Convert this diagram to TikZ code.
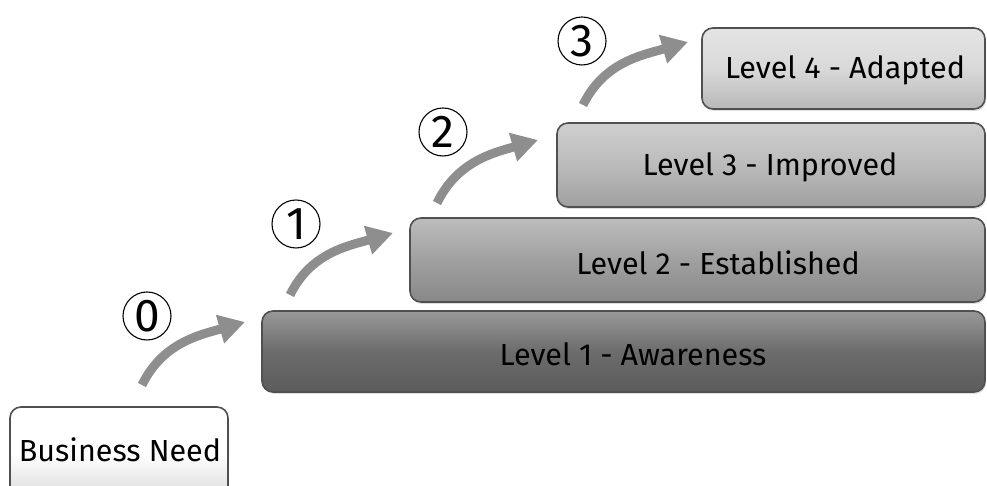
\documentclass[tikz,border=0pt]{standalone}
\usepackage{fontspec}
\setmainfont{Fira Sans}
\usetikzlibrary{arrows.meta,shadows}
\definecolor{arrowgray}{HTML}{8E8E8E}
\definecolor{edgegray}{HTML}{505050}
\definecolor{cLfour}{HTML}{D9D9D9}
\definecolor{cLthree}{HTML}{BBBBBB}
\definecolor{cLtwo}{HTML}{A0A0A0}
\definecolor{cLone}{HTML}{6C6C6C}
\begin{document}
\begin{tikzpicture}[x=1pt,y=1pt,
  levelbox/.style={draw=edgegray, line width=1.6pt, rounded corners=11pt, inner sep=0pt,
    top color=#1!70!white, bottom color=#1!85!black, middle color=#1,
    drop shadow={opacity=0.25, shadow xshift=1pt, shadow yshift=-2pt}},
  lbl/.style={inner sep=0pt, font=\fontsize{30.5}{34}\selectfont, text=black},
  numcirc/.style={circle, draw=black, line width=1.1pt, minimum size=48pt, inner sep=0pt,
    font=\fontsize{46}{50}\selectfont},
  steparrow/.style={draw=arrowgray, line width=9pt, -{Triangle[length=26pt,width=28pt]}}
]
\useasboundingbox (0,0) rectangle (987,486);
\clip (0,0) rectangle (987,486);
% boxes
\node[levelbox=white, minimum width=218pt, minimum height=93pt] (bn) at (119,32.5) {};
\node[lbl] (bnt) at (120,36) {Business Need};
\node[levelbox=cLone, minimum width=723pt, minimum height=81pt] (l1) at (623.5,134.5) {};
\node[lbl] (l1t) at (633,132) {Level 1 - Awareness};
\node[levelbox=cLtwo, minimum width=575pt, minimum height=84pt] (l2) at (697.5,226) {};
\node[lbl] (l2t) at (718,223) {Level 2 - Established};
\node[levelbox=cLthree, minimum width=428pt, minimum height=84pt] (l3) at (771,321) {};
\node[lbl] (l3t) at (770,319) {Level 3 - Improved};
\node[levelbox=cLfour, minimum width=283pt, minimum height=81pt] (l4) at (843.5,417.5) {};
\node[lbl] (l4t) at (845,416) {Level 4 - Adapted};
% numbers
\node[numcirc] (n0) at (147,170) {0};
\node[numcirc] (n1) at (296,262) {1};
\node[numcirc] (n2) at (443,354) {2};
\node[numcirc] (n3) at (582,445) {3};
% arrows
\coordinate (a0s) at (142,101); \coordinate (a0e) at (245,164);
\coordinate (a1s) at (290,191); \coordinate (a1e) at (393,253);
\coordinate (a2s) at (437,283); \coordinate (a2e) at (538,346);
\coordinate (a3s) at (583,381); \coordinate (a3e) at (688,444);
\draw[steparrow] (a0s) to[out=64,in=196] (a0e);
\draw[steparrow] (a1s) to[out=64,in=196] (a1e);
\draw[steparrow] (a2s) to[out=64,in=196] (a2e);
\draw[steparrow] (a3s) to[out=64,in=196] (a3e);
\end{tikzpicture}
\end{document}
